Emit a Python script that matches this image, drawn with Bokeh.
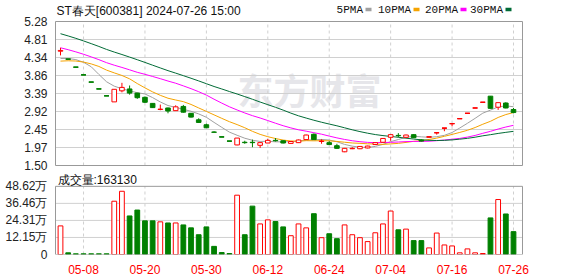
from bokeh.plotting import figure
from bokeh.models import Range1d, FixedTicker, Label, ColumnDataSource
from bokeh.layouts import column
from bokeh.embed import file_html
from bokeh.resources import INLINE

# ---------------- data ----------------
dates = ["04-30", "05-06", "05-07", "05-08", "05-09", "05-10", "05-13", "05-14", "05-15", "05-16",
         "05-17", "05-20", "05-21", "05-22", "05-23", "05-24", "05-27", "05-28", "05-29", "05-30",
         "05-31", "06-03", "06-04", "06-05", "06-06", "06-07", "06-11", "06-12", "06-13", "06-14",
         "06-17", "06-18", "06-19", "06-20", "06-21", "06-24", "06-25", "06-26", "06-27", "06-28",
         "07-01", "07-02", "07-03", "07-04", "07-05", "07-08", "07-09", "07-10", "07-11", "07-12",
         "07-15", "07-16", "07-17", "07-18", "07-19", "07-22", "07-23", "07-24", "07-25", "07-26"]

opens = [4.50, 4.29, 4.08, 3.88, 3.69, 3.51, 3.33, 3.17, 3.46, 3.51,
         3.40, 3.29, 3.13, 2.97, 3.01, 2.94, 3.05, 2.87, 2.70, 2.57,
         2.38, 2.25, 2.14, 2.04, 2.11, 2.11, 2.03, 2.09, 2.16, 2.15,
         2.08, 2.10, 2.18, 2.32, 2.13, 2.10, 2.02, 1.86, 1.94, 1.94,
         1.96, 2.05, 2.11, 2.24, 2.29, 2.24, 2.31, 2.17, 2.25, 2.36,
         2.48, 2.60, 2.73, 2.87, 3.01, 3.16, 3.32, 3.03, 3.14, 2.97]
highs = [4.59, 4.29, 4.08, 3.88, 3.69, 3.51, 3.33, 3.50, 3.67, 3.60,
         3.41, 3.31, 3.13, 3.10, 3.02, 3.08, 3.09, 2.88, 2.74, 2.60,
         2.40, 2.25, 2.14, 2.22, 2.15, 2.18, 2.11, 2.20, 2.22, 2.16,
         2.14, 2.18, 2.31, 2.34, 2.19, 2.14, 2.07, 1.96, 1.98, 2.00,
         2.02, 2.10, 2.21, 2.31, 2.35, 2.31, 2.32, 2.19, 2.25, 2.36,
         2.48, 2.60, 2.73, 2.87, 3.01, 3.16, 3.32, 3.15, 3.16, 3.01]
lows = [4.39, 4.29, 4.08, 3.88, 3.69, 3.51, 3.33, 3.17, 3.42, 3.36,
        3.25, 3.14, 3.01, 2.95, 2.87, 2.94, 2.89, 2.76, 2.62, 2.49,
        2.37, 2.25, 2.14, 2.03, 2.07, 1.98, 1.96, 2.09, 2.13, 2.08,
        2.07, 2.09, 2.17, 2.17, 2.07, 2.05, 1.94, 1.85, 1.93, 1.93,
        1.95, 2.04, 2.10, 2.15, 2.24, 2.23, 2.22, 2.13, 2.25, 2.31,
        2.40, 2.53, 2.73, 2.87, 3.01, 3.16, 3.00, 2.96, 3.00, 2.87]
closes = [4.52, 4.29, 4.08, 3.88, 3.69, 3.51, 3.33, 3.50, 3.55, 3.40,
          3.28, 3.16, 3.02, 2.98, 2.93, 3.04, 2.90, 2.77, 2.63, 2.49,
          2.37, 2.25, 2.14, 2.22, 2.10, 2.10, 2.10, 2.16, 2.15, 2.09,
          2.13, 2.17, 2.30, 2.18, 2.14, 2.05, 1.95, 1.95, 1.95, 2.00,
          2.01, 2.10, 2.21, 2.31, 2.28, 2.30, 2.23, 2.14, 2.25, 2.36,
          2.48, 2.60, 2.73, 2.87, 3.01, 3.16, 3.00, 3.15, 3.01, 2.89]
# volume, in units of 万 (10,000 shares)
volumes = [20.4, 1.2, 0.5, 0.5, 0.5, 0.5, 0.5, 38.0, 45.1, 27.5,
           31.7, 24.0, 24.0, 23.3, 22.5, 22.5, 21.1, 19.0, 14.1, 19.7,
           5.8, 1.4, 0.7, 42.3, 14.1, 34.5, 21.8, 24.7, 23.5, 19.7,
           13.4, 21.8, 19.0, 29.1, 12.0, 14.8, 11.3, 21.1, 14.1, 12.0,
           9.2, 15.5, 21.8, 31.0, 17.6, 18.1, 9.9, 9.9, 4.7, 15.3,
           6.8, 6.1, 1.2, 4.0, 1.2, 0.7, 26.1, 39.2, 28.9, 16.313]

ma5 = [4.31, 4.31, 4.28, 4.21, 4.092, 3.89, 3.698, 3.582, 3.516, 3.458,
       3.412, 3.378, 3.282, 3.168, 3.074, 3.026, 2.974, 2.924, 2.854, 2.766,
       2.632, 2.502, 2.376, 2.294, 2.216, 2.162, 2.132, 2.136, 2.122, 2.12,
       2.126, 2.14, 2.168, 2.174, 2.184, 2.168, 2.124, 2.054, 2.008, 1.98,
       1.972, 2.002, 2.054, 2.126, 2.182, 2.24, 2.266, 2.252, 2.24, 2.256,
       2.292, 2.366, 2.484, 2.608, 2.738, 2.874, 2.954, 3.038, 3.066, 3.042]
ma10 = [4.24, 4.249, 4.242, 4.215, 4.167, 4.10, 4.004, 3.931, 3.863, 3.775,
        3.651, 3.538, 3.432, 3.342, 3.266, 3.219, 3.176, 3.103, 3.011, 2.92,
        2.829, 2.738, 2.65, 2.574, 2.491, 2.397, 2.317, 2.256, 2.208, 2.168,
        2.144, 2.136, 2.152, 2.148, 2.152, 2.147, 2.132, 2.111, 2.091, 2.082,
        2.07, 2.063, 2.054, 2.067, 2.081, 2.106, 2.134, 2.153, 2.183, 2.219,
        2.266, 2.316, 2.368, 2.424, 2.497, 2.583, 2.66, 2.761, 2.837, 2.89]
ma20 = [4.59, 4.54, 4.483, 4.42, 4.351, 4.278, 4.199, 4.133, 4.074, 4.011,
        3.946, 3.894, 3.837, 3.779, 3.717, 3.66, 3.59, 3.517, 3.437, 3.348,
        3.24, 3.138, 3.041, 2.958, 2.879, 2.808, 2.747, 2.68, 2.61, 2.544,
        2.487, 2.437, 2.401, 2.361, 2.322, 2.272, 2.225, 2.184, 2.15, 2.125,
        2.107, 2.1, 2.103, 2.108, 2.117, 2.127, 2.133, 2.132, 2.137, 2.151,
        2.168, 2.19, 2.211, 2.246, 2.289, 2.345, 2.397, 2.457, 2.51, 2.555]
ma30 = [4.96, 4.901, 4.838, 4.77, 4.699, 4.625, 4.547, 4.478, 4.413, 4.346,
        4.277, 4.206, 4.133, 4.061, 3.99, 3.925, 3.858, 3.79, 3.72, 3.647,
        3.574, 3.509, 3.442, 3.377, 3.308, 3.239, 3.166, 3.097, 3.028, 2.954,
        2.875, 2.804, 2.745, 2.688, 2.636, 2.588, 2.542, 2.49, 2.437, 2.39,
        2.348, 2.312, 2.285, 2.263, 2.241, 2.217, 2.194, 2.173, 2.161, 2.156,
        2.16, 2.172, 2.191, 2.213, 2.243, 2.279, 2.309, 2.342, 2.37, 2.397]

price_ticks = [1.50, 1.9725, 2.445, 2.9175, 3.39, 3.8625, 4.335, 4.8075, 5.28]
price_tick_labels = ["1.50", "1.97", "2.45", "2.92", "3.39", "3.86", "4.34", "4.81", "5.28"]
vol_ticks = [0, 12.155, 24.31, 36.465, 48.62]
vol_tick_labels = ["0", "12.15万", "24.31万", "36.46万", "48.62万"]
date_tick_labels = ["05-08", "05-20", "05-30", "06-12", "06-24", "07-04", "07-16", "07-26"]

title_text = "ST春天[600381] 2024-07-26 15:00"
volume_title = "成交量:163130"
ma_names = ["5PMA", "10PMA", "20PMA", "30PMA"]
watermark = "东方财富"

# ---------------- styling / geometry ----------------
RED = "#ff0000"
GREEN = "#008000"
MA_COLORS = ["#a0a0a0", "#f5a300", "#ff00ff", "#006b36"]
GRID = "#d0d0d0"
BORDER = "#999999"
FONT = "Liberation Sans"
TXT = "#111111"

W = 578
PX = 7.678            # pixels per trading day
FIRST_PX = 60         # page x of first bar
FL, FR = 54, 524      # frame (page x)
PL, PR = 55, 522      # drawn panel border (page x)
n = len(closes)
xs = list(range(n))


def dx(px):
    return (px - FIRST_PX) / PX


X0, X1 = dx(FL), dx(FR)
XL, XR = dx(PL), dx(PR)
xr = Range1d(X0, X1)

# price panel: 5.28 at page y 21, 1.50 at page y 165; canvas 0..172
P_LO, P_HI = price_ticks[0], price_ticks[-1]
P_PER_PX = (P_HI - P_LO) / 144.0
H1 = 172


def py1(py):
    return P_HI - (py - 21) * P_PER_PX


# volume panel: 48.62 at page y 186, 0 at page y 255; canvas 172..276
V_HI = vol_ticks[-1]
V_PER_PX = V_HI / 69.0
H2 = 276 - H1


def py2(py):
    return V_HI - (py - 186) * V_PER_PX


up = []
for i in range(n):
    prev = closes[i - 1] if i > 0 else opens[i]
    if closes[i] > opens[i]:
        up.append(True)
    elif closes[i] < opens[i]:
        up.append(False)
    else:
        up.append(closes[i] >= prev)
col = [RED if u else GREEN for u in up]
fill = ["#ffffff" if u else GREEN for u in up]
top = [max(o, c) for o, c in zip(opens, closes)]
bot = [min(o, c) for o, c in zip(opens, closes)]
src = ColumnDataSource(dict(x=xs, o=opens, h=highs, l=lows, c=closes, top=top, bot=bot,
                            col=col, fill=fill, v=volumes, zero=[0] * n))

date_ticks = [dates.index(d) for d in date_tick_labels]


def style_common(p):
    p.background_fill_color = "white"
    p.border_fill_color = "white"
    p.outline_line_color = None
    p.xgrid.visible = False
    p.ygrid.visible = False
    for ax in p.yaxis:
        ax.axis_line_color = None
        ax.major_tick_line_color = None
        ax.minor_tick_line_color = None
        ax.major_label_standoff = 1
        ax.major_label_text_font = FONT
        ax.major_label_text_font_size = "12px"
        ax.major_label_text_color = "#222222"


def panel_grid(p, yticks, ylo, yhi):
    inner = [t for t in yticks if ylo < t < yhi]
    p.segment(x0=[XL] * len(inner), x1=[XR] * len(inner), y0=inner, y1=inner,
              line_color=GRID, line_width=1)
    p.segment(x0=date_ticks, x1=date_ticks, y0=[ylo] * len(date_ticks),
              y1=[yhi] * len(date_ticks), line_color=GRID, line_width=1, line_dash="3 3")


def panel_border(p, ylo, yhi):
    p.quad(left=[XL], right=[XR], bottom=[ylo], top=[yhi], fill_color=None,
           line_color=BORDER, line_width=1)


# ---------------- price panel ----------------
p1 = figure(width=W, height=H1, x_range=xr, y_range=Range1d(py1(H1), py1(0)),
            output_backend="svg", toolbar_location=None, tools="",
            min_border_left=FL, min_border_right=W - FR,
            min_border_top=0, min_border_bottom=0)
style_common(p1)
p1.xaxis.visible = False
p1.yaxis.ticker = FixedTicker(ticks=price_ticks)
p1.yaxis.major_label_overrides = {t: s for t, s in zip(price_ticks, price_tick_labels)}

panel_grid(p1, price_ticks, P_LO, P_HI)

p1.add_layout(Label(x=dx(309), y=py1(88), text=watermark, text_align="center",
                    text_baseline="middle", text_font="Noto Sans CJK SC",
                    text_font_style="bold", text_font_size="36px",
                    text_color="#e6e6ea", level="underlay"))

for ma, c in zip([ma5, ma10, ma20, ma30], MA_COLORS):
    p1.line(xs, ma, line_color=c, line_width=1)

p1.segment(x0="x", y0="h", x1="x", y1="l", line_color="col", line_width=1, source=src)
p1.vbar(x="x", width=0.6, top="top", bottom="bot", fill_color="fill", line_color="col",
        line_width=1, source=src)
flat = [i for i in range(n) if abs(opens[i] - closes[i]) < 1e-9]
p1.segment(x0=[i - 0.32 for i in flat], x1=[i + 0.32 for i in flat],
           y0=[closes[i] for i in flat], y1=[closes[i] for i in flat],
           line_color=[col[i] for i in flat], line_width=1.2)

panel_border(p1, P_LO, P_HI)

p1.add_layout(Label(x=dx(56), y=py1(10), text=title_text, text_align="left",
                    text_baseline="middle", text_font=FONT, text_font_size="12px",
                    text_color=TXT))

swatch_left = [365, 413, 460, 505]
p1.quad(left=[dx(s) for s in swatch_left], right=[dx(s + 6) for s in swatch_left],
        top=[py1(7.3)] * 4, bottom=[py1(10.8)] * 4, fill_color=MA_COLORS, line_color=None)
for name, sl in zip(ma_names, swatch_left):
    p1.add_layout(Label(x=dx(sl - 2.5), y=py1(9), text=name, text_align="right",
                        text_baseline="middle", text_font="Liberation Mono",
                        text_font_size="11px", text_color=TXT))

# ---------------- volume panel ----------------
p2 = figure(width=W, height=H2, x_range=xr, y_range=Range1d(0, py2(H1)),
            output_backend="svg", toolbar_location=None, tools="",
            min_border_left=FL, min_border_right=W - FR,
            min_border_top=0, min_border_bottom=21)
style_common(p2)
p2.yaxis.ticker = FixedTicker(ticks=vol_ticks)
p2.yaxis.major_label_overrides = {t: s for t, s in zip(vol_ticks, vol_tick_labels)}
p2.xaxis.ticker = FixedTicker(ticks=date_ticks)
p2.xaxis.major_label_overrides = {t: s for t, s in zip(date_ticks, date_tick_labels)}
p2.xaxis.axis_line_color = None
p2.xaxis.major_tick_line_color = None
p2.xaxis.minor_tick_line_color = None
p2.xaxis.major_label_standoff = 4
p2.xaxis.major_label_text_font = FONT
p2.xaxis.major_label_text_font_size = "12px"
p2.xaxis.major_label_text_color = RED

panel_grid(p2, vol_ticks, 0, V_HI)
p2.vbar(x="x", width=0.62, top="v", bottom="zero", fill_color="fill", line_color="col",
        line_width=1, source=src)
panel_border(p2, 0, V_HI)

p2.add_layout(Label(x=dx(57), y=py2(172.6), text=volume_title, text_align="left",
                    text_baseline="top", text_font=FONT, text_font_size="12px",
                    text_color=TXT))

layout = column(p1, p2, spacing=0)
open("out.html", "w").write(file_html(layout, INLINE))
